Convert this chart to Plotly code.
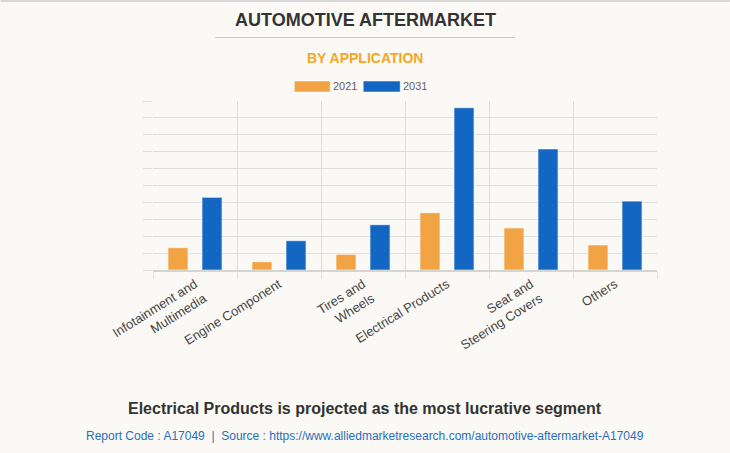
import plotly.graph_objects as go

categories = ["Infotainment and<br>Multimedia", "Engine Component", "Tires and<br>Wheels",
              "Electrical Products", "Seat and<br>Steering Covers", "Others"]
series_names = ["2021", "2031"]
values_2021 = [1.32, 0.49, 0.93, 3.39, 2.49, 1.48]
values_2031 = [4.30, 1.73, 2.68, 9.60, 7.16, 4.08]
colors = ["#F2A444", "#1366C1"]

FONT = "Arial, Liberation Sans, sans-serif"
BG = "#FAF9F5"

fig = go.Figure()
for name, vals, col in zip(series_names, [values_2021, values_2031], colors):
    fig.add_trace(go.Bar(x=categories, y=vals, name=name, marker_color=col,
                         marker_line=dict(color="rgba(255,255,255,0.55)", width=1.2),
                         showlegend=False))

W, H = 730, 453
l, r, t, b = 152.6, 73, 101, 183
pw, ph = W - l - r, H - t - b

fig.update_layout(
    width=W, height=H,
    paper_bgcolor=BG, plot_bgcolor=BG,
    margin=dict(l=l, r=r, t=t, b=b),
    barmode="group", bargap=0.19, bargroupgap=0.41,
    font=dict(family=FONT),
)
fig.update_xaxes(
    tickson="boundaries", showgrid=True, gridcolor="#DDDDDA", gridwidth=1,
    ticks="outside", ticklen=7, tickcolor="#DDDDDA",
    showline=True, linecolor="#D4D4D0", linewidth=1.5,
    tickangle=-32, tickfont=dict(size=13, color="#444444", family=FONT),
)
fig.update_yaxes(
    range=[0, 10], dtick=1, showgrid=True, gridcolor="#DEDEDB", gridwidth=1,
    ticks="outside", ticklen=9, tickcolor="#DEDEDB",
    showticklabels=False, zeroline=False, showline=False,
)

def pxx(px):
    return (px - l) / pw

def pxy(py):
    return 1 - (py - t) / ph

def text_at(text, x, y, size, color):
    fig.add_annotation(text=text, x=pxx(x), y=pxy(y), xref="paper", yref="paper",
                       showarrow=False, xanchor="center", yanchor="middle",
                       font=dict(size=size, color=color, family=FONT))

text_at("<b>AUTOMOTIVE AFTERMARKET</b>", 365, 20, 18, "#333333")
text_at("<b>BY APPLICATION</b>", 365, 58, 14, "#F5A623")
text_at("<b>Electrical Products is projected as the most lucrative segment</b>", 365, 408, 16, "#333333")
text_at("Report Code : A17049  |  Source : https://www.alliedmarketresearch.com/automotive-aftermarket-A17049",
        365, 436, 12, "#2A6EBB")

# header divider
fig.add_shape(type="line", xref="paper", yref="paper", x0=pxx(215), x1=pxx(515), y0=pxy(37.5), y1=pxy(37.5),
              line=dict(color="#C8C8C8", width=1))
# top border
fig.add_shape(type="line", xref="paper", yref="paper", x0=pxx(0), x1=pxx(730), y0=pxy(1), y1=pxy(1),
              line=dict(color="#D8D8D8", width=2))

# legend
leg = [(294, 330, 343), (363, 400, 413)]
for (x0, x1, tx), name, col in zip(leg, series_names, colors):
    fig.add_shape(type="rect", xref="paper", yref="paper", x0=pxx(x0), x1=pxx(x1), y0=pxy(81), y1=pxy(92),
                  fillcolor=col, line=dict(color="rgba(255,255,255,0.5)", width=1))
    text_at(name, tx + 2, 86.5, 11, "#666666")

fig.write_html("out.html", config={"displayModeBar": False},
               post_script="document.body.style.margin='0';document.body.style.overflow='hidden';")
